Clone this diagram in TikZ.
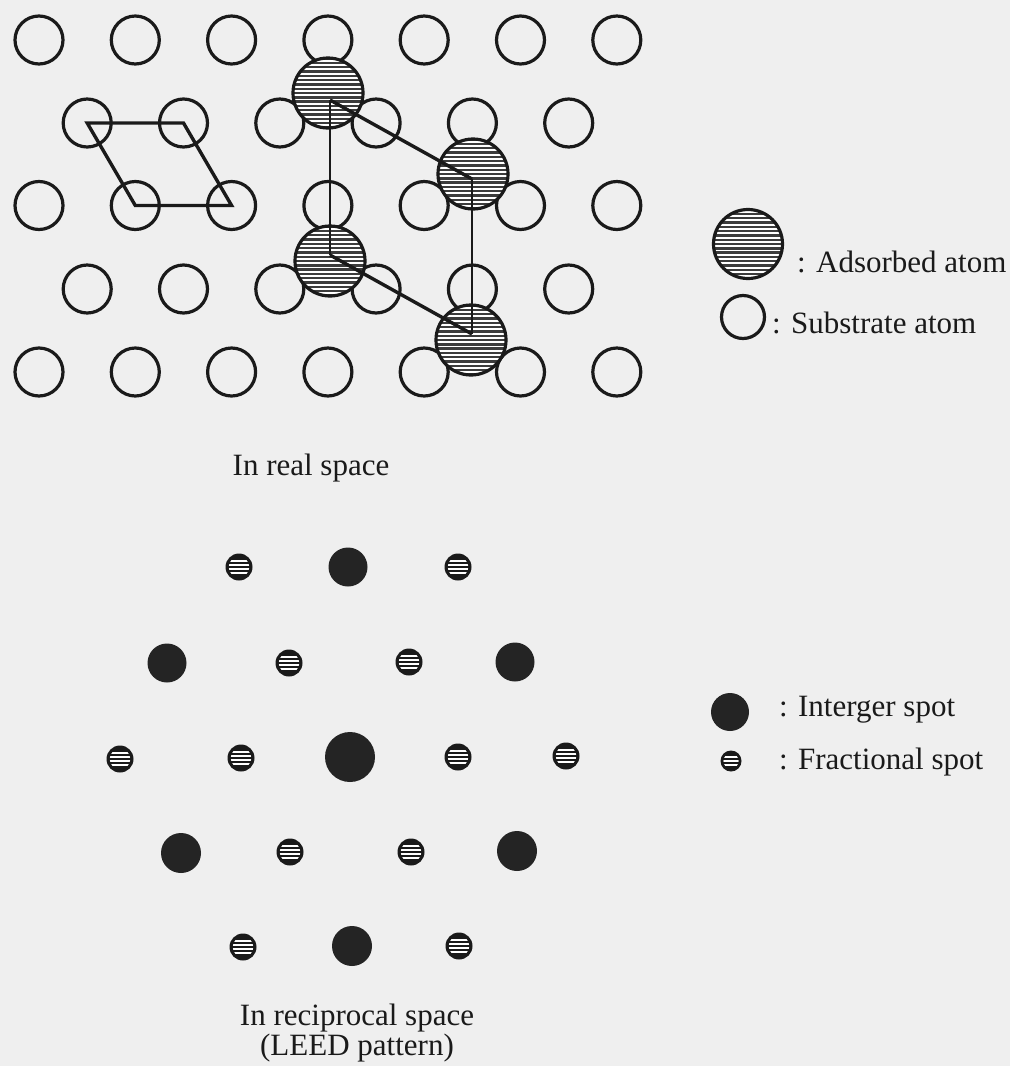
\documentclass[tikz,border=0pt]{standalone}
\usepackage{fontspec}
\setmainfont{Liberation Serif}
\definecolor{bg}{RGB}{239,239,239}
\definecolor{ink}{RGB}{26,26,26}
\definecolor{spot}{RGB}{36,36,36}
\definecolor{hatch}{RGB}{60,60,60}
\begin{document}
\begin{tikzpicture}[x=1pt,y=-1pt,
  sub/.style={circle,draw=ink,line width=3.2pt,minimum size=48pt,inner sep=0pt},
  ads/.style={circle,draw=ink,fill=white,line width=3.2pt,minimum size=70pt,inner sep=0pt,
    path picture={\foreach \k in {-9,...,9}{\draw[line width=2.4pt,hatch] ([yshift=\k*4.3pt]path picture bounding box.west) -- ([yshift=\k*4.3pt]path picture bounding box.east);}}},
  intspot/.style={circle,fill=spot,minimum size=39pt,inner sep=0pt},
  fracspot/.style={circle,fill=ink,minimum size=27pt,inner sep=0pt,
    path picture={\clip (path picture bounding box.center) circle[radius=10.3pt];
      \foreach \k in {-6.45,-2.15,2.15,6.45}{\draw[line width=2pt,white] ([yshift=\k pt]path picture bounding box.west) -- ([yshift=\k pt]path picture bounding box.east);}}},
  smallfrac/.style={circle,fill=ink,minimum size=21pt,inner sep=0pt,
    path picture={\clip (path picture bounding box.center) circle[radius=7.6pt];
      \foreach \k in {-3.7,0,3.7}{\draw[line width=1.8pt,white] ([yshift=\k pt]path picture bounding box.west) -- ([yshift=\k pt]path picture bounding box.east);}}},
  edge/.style={draw=ink,line width=3.4pt,line join=miter},
  vedge/.style={draw=ink,line width=2.6pt},
  lbl/.style={anchor=base west,inner sep=0pt,text=ink,font=\fontsize{31}{25}\selectfont}
]
\fill[bg] (0,0) rectangle (1010,1066);
\useasboundingbox (0,0) rectangle (1010,1066);

% substrate lattice
\foreach \r/\yy/\xo/\n in {1/40/39/7, 2/123/87.2/6, 3/205.5/39/7, 4/289/87.2/6, 5/372/39/7}{
  \foreach \c in {1,...,\n}{
    \node[sub] (s-\r-\c) at ({\xo+96.3*(\c-1)},\yy) {};
  }
}

% adsorbed atoms
\node[ads] (a1) at (328,93) {};
\node[ads] (a2) at (473,174) {};
\node[ads] (a3) at (330,261) {};
\node[ads] (a4) at (471,340) {};

% unit cells
\draw[edge] (s-2-1.center) -- (s-2-2.center) -- (s-3-3.center) -- (s-3-2.center) -- cycle;
\coordinate (p1) at (330,100);
\coordinate (p2) at (472,179);
\coordinate (p3) at (472,334);
\coordinate (p4) at (330,255);
\draw[edge] (p1) -- (p2);
\draw[edge] (p4) -- (p3);
\draw[vedge] (p1) -- (p4);
\draw[vedge] (p2) -- (p3);

% legend (real space)
\node[ads,minimum size=69pt] (la) at (748,244) {};
\node[sub,minimum size=43pt] (ls) at (743,317) {};
\node[lbl] (tla) at (797,272) {: Adsorbed atom};
\node[lbl] (tls) at (772,333) {: Substrate atom};
\node[lbl] (treal) at (232.5,475) {In real space};

% LEED pattern
\node[intspot] (i1) at (348,567) {};
\node[intspot] (i2) at (167,663) {};
\node[intspot] (i3) at (515,662) {};
\node[intspot,minimum size=50pt] (i0) at (350,757) {};
\node[intspot,minimum size=40pt] (i4) at (181,853) {};
\node[intspot,minimum size=40pt] (i5) at (517,851) {};
\node[intspot,minimum size=40pt] (i6) at (352,946) {};

\node[fracspot] (f1) at (239,567) {};
\node[fracspot] (f2) at (458,567) {};
\node[fracspot] (f3) at (289,663) {};
\node[fracspot] (f4) at (409,662) {};
\node[fracspot] (f5) at (120,759) {};
\node[fracspot] (f6) at (241,758) {};
\node[fracspot] (f7) at (458,757) {};
\node[fracspot] (f8) at (566,756) {};
\node[fracspot] (f9) at (290,852) {};
\node[fracspot] (f10) at (411,852) {};
\node[fracspot] (f11) at (243,947) {};
\node[fracspot] (f12) at (459,946) {};

% legend (LEED)
\node[intspot,minimum size=38pt] (li) at (730,712) {};
\node[smallfrac] (lf) at (731,761) {};
\node[lbl] (tli) at (779,716) {: Interger spot};
\node[lbl] (tlf) at (779,769) {: Fractional spot};
\node[inner sep=0pt,text=ink,align=center,font=\fontsize{31}{25}\selectfont,anchor=center] (trec) at (357,1033) {In reciprocal space\\(LEED pattern)};
\end{tikzpicture}
\end{document}
